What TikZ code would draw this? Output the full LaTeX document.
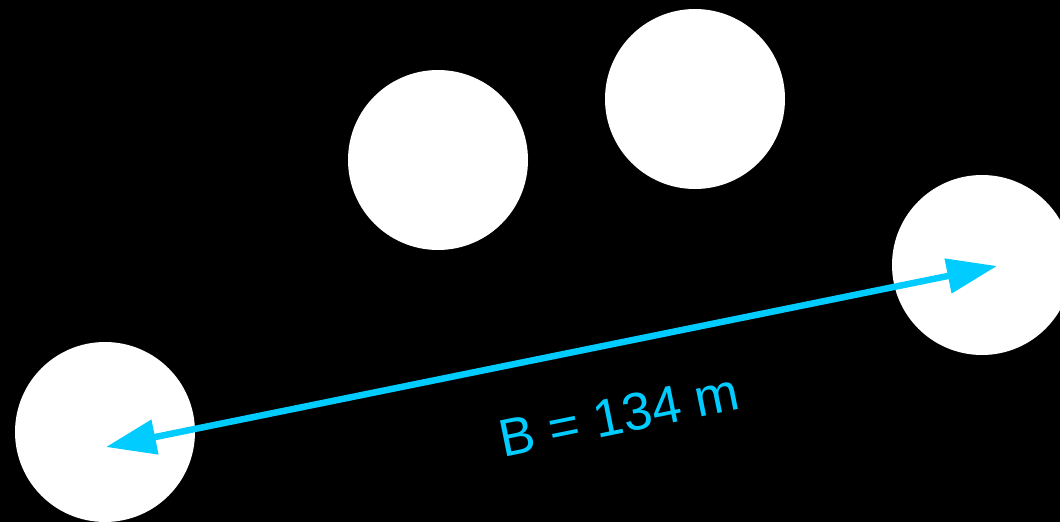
\documentclass[tikz,border=0pt]{standalone}
\usepackage{fontspec}
\setmainfont{Liberation Sans}
\usetikzlibrary{arrows.meta}
\definecolor{skyc}{HTML}{00CCFF}
\begin{document}
\begin{tikzpicture}[x=1pt,y=-1pt,
  pile/.style={circle,fill=white,draw=none,minimum size=180pt,inner sep=0pt},
  dim/.style={draw=skyc,line width=6.5pt,{Triangle[length=50pt,width=34pt]}-{Triangle[length=50pt,width=34pt]}},
  lbl/.style={text=skyc,font=\fontsize{53}{60}\selectfont,inner sep=0pt}]
\useasboundingbox (0,0) rectangle (1060,522);
\clip (0,0) rectangle (1060,522);
\fill[black] (0,0) rectangle (1060,522);
\node[pile] (c1) at (438,160) {};
\node[pile] (c2) at (695,99) {};
\node[pile] (c3) at (982,265) {};
\node[pile] (c4) at (105,432) {};
\coordinate (pA) at (106,447);
\coordinate (pB) at (997,266);
\draw[dim] (pA) -- (pB);
\node[lbl,rotate=11.5] (lab) at (619,415) {B = 134 m};
\end{tikzpicture}
\end{document}
